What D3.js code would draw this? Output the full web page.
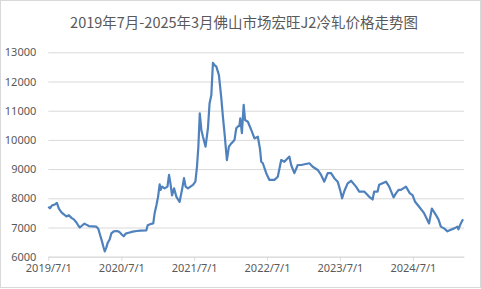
<!DOCTYPE html>
<html>
<head>
<meta charset="utf-8">
<script src="https://cdn.jsdelivr.net/npm/d3@7"></script>
<style>
  body { margin: 0; background: #fff; }
  text { font-family: "Noto Sans", "Noto Sans CJK SC", sans-serif; fill: #595959; }
  .title { font-family: "Noto Sans CJK SC", sans-serif; }
</style>
</head>
<body>
<svg width="481" height="289"></svg>
<script>
var svg = d3.select('svg');

var titleText = '2019年7月-2025年3月佛山市场宏旺J2冷轧价格走势图';

var yTicks = [6000, 7000, 8000, 9000, 10000, 11000, 12000, 13000];
var xTicks = ['2019-07-01', '2020-07-01', '2021-07-01', '2022-07-01', '2023-07-01', '2024-07-01'];

// price readings
var dates = [
  '2019-07-01','2019-07-09','2019-07-19','2019-08-03','2019-08-13','2019-08-23','2019-09-05','2019-09-17',
  '2019-09-30','2019-10-12','2019-10-25','2019-11-06','2019-11-19','2019-11-29','2019-12-06','2019-12-16',
  '2019-12-29','2020-01-10','2020-01-20','2020-02-27','2020-03-08','2020-03-15','2020-03-25','2020-04-02',
  '2020-04-09','2020-04-17','2020-04-24','2020-05-04','2020-05-12','2020-05-24','2020-06-08','2020-06-21',
  '2020-07-03','2020-07-13','2020-07-23','2020-08-07','2020-08-27','2020-09-16','2020-10-06','2020-11-03',
  '2020-11-10','2020-11-25','2020-12-08','2020-12-15','2020-12-24','2021-01-01','2021-01-09','2021-01-14',
  '2021-01-21','2021-02-03','2021-02-17','2021-02-25','2021-03-04','2021-03-12','2021-03-22','2021-04-03',
  '2021-04-19','2021-05-01','2021-05-11','2021-05-19','2021-05-31','2021-06-25','2021-07-07','2021-07-15',
  '2021-07-22','2021-07-29','2021-08-06','2021-08-14','2021-08-27','2021-09-08','2021-09-16','2021-09-25',
  '2021-10-03','2021-10-11','2021-10-20','2021-11-02','2021-11-14','2021-11-22','2021-11-30','2021-12-12',
  '2021-12-22','2022-01-03','2022-01-19','2022-01-28','2022-02-13','2022-02-17','2022-02-25','2022-03-06',
  '2022-03-13','2022-03-27','2022-04-13','2022-04-29','2022-05-16','2022-05-27','2022-06-02','2022-06-10',
  '2022-06-27','2022-07-13','2022-08-07','2022-08-24','2022-09-10','2022-09-26','2022-10-21','2022-10-30',
  '2022-11-15','2022-12-02','2022-12-19','2023-01-29','2023-02-15','2023-03-12','2023-03-29','2023-04-14',
  '2023-05-01','2023-05-18','2023-06-03','2023-06-20','2023-07-02','2023-07-12','2023-07-24','2023-08-09',
  '2023-08-26','2023-09-20','2023-10-06','2023-10-31','2023-11-25','2023-12-12','2023-12-20','2024-01-06',
  '2024-01-14','2024-02-17','2024-03-04','2024-03-26','2024-04-07','2024-04-20','2024-05-02','2024-05-27',
  '2024-06-16','2024-06-29','2024-07-12','2024-08-01','2024-08-26','2024-09-20','2024-10-04','2024-10-24',
  '2024-11-06','2024-11-18','2024-12-04','2024-12-21','2025-01-07','2025-01-24','2025-02-09','2025-02-14',
  '2025-02-26','2025-03-09'
];
var prices = [
  7710, 7660, 7750, 7790, 7840, 7650, 7520, 7450,
  7380, 7420, 7330, 7280, 7170, 7060, 7000, 7060,
  7130, 7090, 7050, 7030, 6950, 6780, 6550, 6340,
  6180, 6320, 6480, 6600, 6800, 6870, 6880, 6850,
  6760, 6700, 6790, 6820, 6860, 6880, 6890, 6900,
  7080, 7120, 7140, 7500, 7770, 8050, 8480, 8290,
  8400, 8340, 8400, 8800, 8510, 8100, 8340, 8050,
  7880, 8290, 8690, 8400, 8340, 8460, 8570, 9080,
  9770, 10910, 10340, 10110, 9770, 10400, 11250, 11540,
  12640, 12560, 12510, 12220, 11420, 10790, 10230, 9310,
  9770, 9880, 10000, 10400, 10510, 10740, 10230, 11200,
  10680, 10620, 10340, 10050, 10110, 9680, 9250, 9200,
  8860, 8630, 8630, 8740, 9310, 9250, 9430, 9140,
  8860, 9140, 9140, 9200, 9080, 8970, 8800, 8570,
  8860, 8860, 8690, 8570, 8290, 8000, 8260, 8510,
  8600, 8400, 8230, 8230, 8050, 7960, 8230, 8230,
  8460, 8570, 8400, 8030, 8170, 8290, 8290, 8400,
  8170, 8110, 7880, 7710, 7490, 7140, 7650, 7430,
  7280, 7030, 6970, 6870, 6920, 6970, 7030, 6940,
  7140, 7280
];

var parse = d3.timeParse('%Y-%m-%d');
var series = dates.map(function(d, i) { return {date: parse(d), price: prices[i]}; });

var plot = {l: 48.3, r: 464, t: 52.3, b: 256.7};

var xScale = d3.scaleTime()
    .domain([parse('2019-07-01'), parse('2025-03-14')])
    .range([plot.l, plot.r]);

var yScale = d3.scaleLinear()
    .domain([6000, 13000])
    .range([plot.b, plot.t]);

// outer frame
svg.append('rect')
    .attr('x', 0.5).attr('y', 0.5)
    .attr('width', 480).attr('height', 287)
    .attr('fill', '#fff')
    .attr('stroke', '#d9d9d9');

svg.append('text')
    .attr('class', 'title')
    .attr('x', 244)
    .attr('y', 28)
    .attr('text-anchor', 'middle')
    .style('font-size', '14.5px')
    .text(titleText);

// horizontal grid
var yAxis = d3.axisLeft(yScale)
    .tickValues(yTicks)
    .tickFormat(d3.format('d'))
    .tickSize(-(plot.r - plot.l))
    .tickPadding(12);

var yG = svg.append('g')
    .attr('transform', 'translate(' + plot.l + ',0)')
    .call(yAxis);
yG.select('.domain').remove();
yG.selectAll('line').attr('stroke', '#d9d9d9');
yG.selectAll('text').style('font-size', '11px').attr('fill', '#595959');

var xAxis = d3.axisBottom(xScale)
    .tickValues(xTicks.map(parse))
    .tickFormat(d3.timeFormat('%Y/%-m/%-d'))
    .tickSize(4)
    .tickSizeOuter(0)
    .tickPadding(4);

var xG = svg.append('g')
    .attr('transform', 'translate(0,' + plot.b + ')')
    .call(xAxis);
xG.select('.domain').attr('stroke', '#d9d9d9');
xG.selectAll('line').attr('stroke', '#d9d9d9');
xG.selectAll('text').style('font-size', '11px').attr('fill', '#595959');

var line = d3.line()
    .x(function(d) { return xScale(d.date); })
    .y(function(d) { return yScale(d.price); });

svg.append('path')
    .datum(series)
    .attr('d', line)
    .attr('fill', 'none')
    .attr('stroke', '#4f81bd')
    .attr('stroke-width', 2.2)
    .attr('stroke-linejoin', 'round');
</script>
</body>
</html>
